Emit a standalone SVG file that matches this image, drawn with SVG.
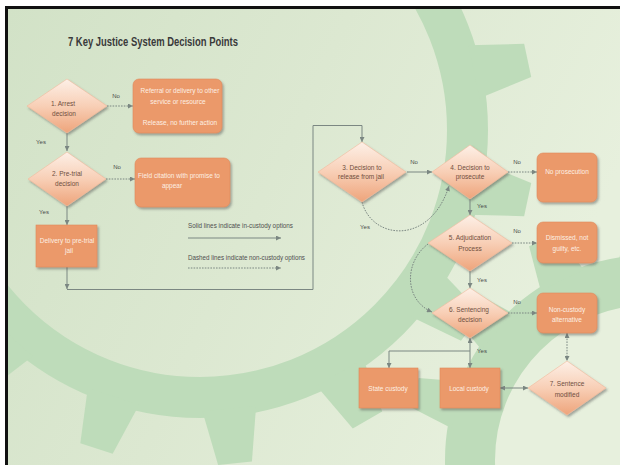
<svg xmlns="http://www.w3.org/2000/svg" width="620" height="465" viewBox="0 0 620 465">
  <defs>
    <linearGradient id="bg" x1="0" y1="0" x2="1" y2="0.35">
      <stop offset="0" stop-color="#d2e2c7"/>
      <stop offset="0.5" stop-color="#dce8d1"/>
      <stop offset="1" stop-color="#e7f0dd"/>
    </linearGradient>
    <linearGradient id="dia" x1="0" y1="0" x2="0" y2="1">
      <stop offset="0" stop-color="#fdf0e7"/>
      <stop offset="0.5" stop-color="#f8cfb6"/>
      <stop offset="1" stop-color="#eea47b"/>
    </linearGradient>
    <filter id="shadow" x="-20%" y="-20%" width="150%" height="150%">
      <feDropShadow dx="1.5" dy="2" stdDeviation="1.2" flood-color="#4a4a4a" flood-opacity="0.45"/>
    </filter>
    <clipPath id="frame">
      <rect x="8" y="9" width="612" height="456"/>
    </clipPath>
    <marker id="arr" viewBox="0 0 6 6" refX="6" refY="3" markerWidth="5.5" markerHeight="5" markerUnits="userSpaceOnUse" orient="auto-start-reverse">
      <path d="M0,0 L6,3 L0,6 z" fill="#7b8782"/>
    </marker>
    <!-- gear teeth, pointing along +x from the gear centre -->
    <polygon id="toothL" points="280,-27 335,-17 335,17 280,27"/>
    <polygon id="toothR" points="200,-24 245,-15 245,15 200,24"/>
    <style>
      .ln { fill: none; stroke: #7b8782; stroke-width: 1; }
      .dash { stroke-dasharray: 1.6 1.2; }
      .box { fill: #eb996a; stroke: #df8a5b; stroke-width: 0.6; filter: url(#shadow); }
      .dia { fill: url(#dia); stroke: #f2bb9c; stroke-width: 0.6; filter: url(#shadow); }
      .gear { fill: #bedcba; }
      .rim { fill: none; stroke: #bedcba; }
      text { font-family: "Liberation Sans", Arial, sans-serif; font-size: 6.5px; text-anchor: middle; }
      .dt { fill: #6f4e3e; }
      .bt { fill: #fdf0e4; }
      .lbl { fill: #4b4b4b; font-size: 6px; }
      .lg { fill: #4f4f4f; text-anchor: start; }
      .title { fill: #3a3a3a; font-size: 12px; font-weight: bold; text-anchor: start; }
    </style>
  </defs>

  <!-- page and frame -->
  <rect width="620" height="465" fill="#ffffff"/>
  <rect x="5" y="6" width="615" height="459" fill="#111111"/>
  <rect x="8" y="9" width="612" height="456" fill="url(#bg)"/>

  <!-- background gears -->
  <g id="gears" clip-path="url(#frame)">
    <g id="gear-left">
      <circle class="rim" cx="200" cy="130" r="267.5" stroke-width="41"/>
      <use href="#toothL" class="gear" transform="translate(200,130) rotate(-36)"/>
      <use href="#toothL" class="gear" transform="translate(200,130) rotate(-12)"/>
      <use href="#toothL" class="gear" transform="translate(200,130) rotate(12)"/>
      <use href="#toothL" class="gear" transform="translate(200,130) rotate(36)"/>
      <use href="#toothL" class="gear" transform="translate(200,130) rotate(60)"/>
      <use href="#toothL" class="gear" transform="translate(200,130) rotate(84)"/>
      <use href="#toothL" class="gear" transform="translate(200,130) rotate(108)"/>
      <use href="#toothL" class="gear" transform="translate(200,130) rotate(132)"/>
    </g>
    <g id="gear-right">
      <circle class="rim" cx="650" cy="460" r="180" stroke-width="50"/>
      <use href="#toothR" class="gear" transform="translate(650,460) rotate(196)"/>
      <use href="#toothR" class="gear" transform="translate(650,460) rotate(220)"/>
      <use href="#toothR" class="gear" transform="translate(650,460) rotate(244)"/>
      <use href="#toothR" class="gear" transform="translate(650,460) rotate(268)"/>
    </g>
  </g>

  <!-- title -->
  <text class="title" x="68" y="46" textLength="170" lengthAdjust="spacingAndGlyphs">7 Key Justice System Decision Points</text>

  <!-- connectors -->
  <g id="connectors">
    <path class="ln dash" d="M107,106 H133" marker-end="url(#arr)"/>
    <path class="ln" d="M67,133 V151" marker-end="url(#arr)"/>
    <path class="ln dash" d="M106,179 H135" marker-end="url(#arr)"/>
    <path class="ln" d="M67,206 V225" marker-end="url(#arr)"/>
    <path class="ln" d="M67,267 V289" marker-end="url(#arr)"/>
    <path class="ln" d="M67,289.5 H313 V125.5 H362 V142" marker-end="url(#arr)"/>
    <path class="ln" d="M407,172 H432" marker-end="url(#arr)"/>
    <path class="ln dash" d="M362,202 C372,240 430,246 449,186" marker-end="url(#arr)"/>
    <path class="ln dash" d="M508,172 H537" marker-end="url(#arr)"/>
    <path class="ln" d="M470,199 V215" marker-end="url(#arr)"/>
    <path class="ln dash" d="M512,243 H537" marker-end="url(#arr)"/>
    <path class="ln" d="M470,271 V288" marker-end="url(#arr)"/>
    <path class="ln dash" d="M428,244 C404,262 404,300 432,312" marker-end="url(#arr)"/>
    <path class="ln dash" d="M508,313 H537" marker-end="url(#arr)"/>
    <path class="ln dash" d="M567,333 V361" marker-start="url(#arr)" marker-end="url(#arr)"/>
    <path class="ln" d="M470,338 V368" marker-start="url(#arr)" marker-end="url(#arr)"/>
    <path class="ln" d="M470,351 H389 V368" marker-end="url(#arr)"/>
    <path class="ln" d="M500,388 H528" marker-start="url(#arr)" marker-end="url(#arr)"/>
    <!-- legend samples -->
    <path class="ln" d="M188,238 H281" marker-end="url(#arr)"/>
    <path class="ln dash" d="M188,268 H281" marker-end="url(#arr)"/>
  </g>

  <!-- branch labels -->
  <g id="labels">
    <text class="lbl" x="116" y="97.5">No</text>
    <text class="lbl" x="41" y="143.5">Yes</text>
    <text class="lbl" x="117" y="169">No</text>
    <text class="lbl" x="44" y="214">Yes</text>
    <text class="lbl" x="414" y="164">No</text>
    <text class="lbl" x="365" y="229">Yes</text>
    <text class="lbl" x="517" y="164">No</text>
    <text class="lbl" x="482" y="207.5">Yes</text>
    <text class="lbl" x="517" y="233">No</text>
    <text class="lbl" x="482" y="282">Yes</text>
    <text class="lbl" x="517" y="304">No</text>
    <text class="lbl" x="482" y="353">Yes</text>
  </g>

  <!-- legend -->
  <g id="legend">
    <text class="lg" x="188" y="227.5" textLength="105" lengthAdjust="spacingAndGlyphs">Solid lines indicate in-custody options</text>
    <text class="lg" x="188" y="259.5" textLength="117" lengthAdjust="spacingAndGlyphs">Dashed lines indicate non-custody options</text>
  </g>

  <!-- decision diamonds -->
  <g id="d1-arrest">
    <polygon class="dia" points="67,79 107,106 67,133 27,106"/>
    <text class="dt" x="63" y="105.5">1. Arrest</text>
    <text class="dt" x="64" y="115.5">decision</text>
  </g>
  <g id="d2-pretrial">
    <polygon class="dia" points="67,152 106,179 67,206 28,179"/>
    <text class="dt" x="67" y="175.5">2. Pre-trial</text>
    <text class="dt" x="67" y="185.5">decision</text>
  </g>
  <g id="d3-release">
    <polygon class="dia" points="362,142 406,172 362,202 318,172"/>
    <text class="dt" x="362" y="169.5">3. Decision to</text>
    <text class="dt" x="361" y="179">release from jail</text>
  </g>
  <g id="d4-prosecute">
    <polygon class="dia" points="470,145 508,172 470,199 432,172"/>
    <text class="dt" x="470" y="169.5">4. Decision to</text>
    <text class="dt" x="470" y="179">prosecute</text>
  </g>
  <g id="d5-adjudication">
    <polygon class="dia" points="470,215 512,243 470,271 428,243"/>
    <text class="dt" x="470" y="239.5">5. Adjudication</text>
    <text class="dt" x="470" y="250.5">Process</text>
  </g>
  <g id="d6-sentencing">
    <polygon class="dia" points="470,288 508,313 470,338 432,313"/>
    <text class="dt" x="469" y="311.5">6. Sentencing</text>
    <text class="dt" x="470" y="321.5">decision</text>
  </g>
  <g id="d7-modified">
    <polygon class="dia" points="567,361 606,388 567,415 528,388"/>
    <text class="dt" x="567" y="385.5">7. Sentence</text>
    <text class="dt" x="567" y="396.5">modified</text>
  </g>

  <!-- outcome boxes -->
  <g id="referral">
    <rect class="box" x="133" y="79" width="89" height="54" rx="6"/>
    <text class="bt" x="180" y="92.5">Referral or delivery to other</text>
    <text class="bt" x="178" y="103.5">service or resource</text>
    <text class="bt" x="180" y="125">Release, no further action</text>
  </g>
  <g id="field-citation">
    <rect class="box" x="135" y="158" width="95" height="49" rx="6"/>
    <text class="bt" x="179" y="177.5">Field citation with promise to</text>
    <text class="bt" x="172" y="187.5">appear</text>
  </g>
  <g id="pretrial-jail">
    <rect class="box" x="36" y="225" width="61" height="42"/>
    <text class="bt" x="67" y="242.5">Delivery to pre-trial</text>
    <text class="bt" x="69" y="252.5">jail</text>
  </g>
  <g id="no-prosecution">
    <rect class="box" x="537" y="153" width="60" height="49" rx="6"/>
    <text class="bt" x="567" y="174">No prosecution</text>
  </g>
  <g id="dismissed">
    <rect class="box" x="537" y="222" width="60" height="41" rx="6"/>
    <text class="bt" x="567" y="239.5">Dismissed, not</text>
    <text class="bt" x="567" y="250.5">guilty, etc.</text>
  </g>
  <g id="non-custody">
    <rect class="box" x="537" y="293" width="60" height="40" rx="6"/>
    <text class="bt" x="567" y="311.5">Non-custody</text>
    <text class="bt" x="567" y="321.5">alternative</text>
  </g>
  <g id="state-custody">
    <rect class="box" x="359" y="368" width="59" height="40"/>
    <text class="bt" x="388" y="390.5">State custody</text>
  </g>
  <g id="local-custody">
    <rect class="box" x="440" y="368" width="60" height="40"/>
    <text class="bt" x="469" y="390.5">Local custody</text>
  </g>
</svg>
